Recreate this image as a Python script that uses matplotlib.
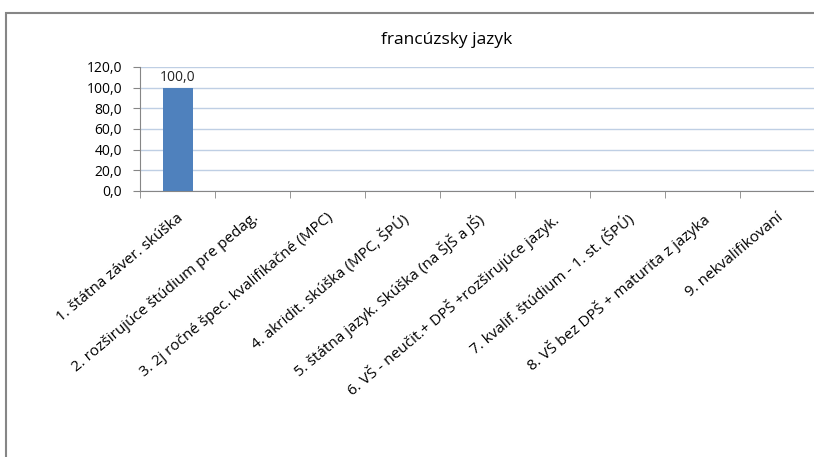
import numpy as np
import matplotlib.pyplot as plt
import matplotlib.transforms as mtransforms
from matplotlib.patches import Rectangle

categories = [
    "1. štátna záver. skúška",
    "2. rozširujúce štúdium pre pedag.",
    "3. 2j ročné špec. kvalifikačné (MPC)",
    "4. akridit. skúška (MPC, ŠPÚ)",
    "5. štátna jazyk. Skúška (na ŠJŠ a JŠ)",
    "6. VŠ - neučit.+ DPŠ +rozširujúce jazyk.",
    "7. kvalif. štúdium - 1. st. (ŠPÚ)",
    "8. VŠ bez DPŠ + maturita z jazyka",
    "9. nekvalifikovaní",
]
values = [100.0, np.nan, np.nan, np.nan, np.nan, np.nan, np.nan, np.nan, np.nan]
yticks = [0, 20, 40, 60, 80, 100, 120]
title = "francúzsky jazyk"

plt.rcParams['font.family'] = ['Open Sans', 'DejaVu Sans']

W, H = 814, 457
fig = plt.figure(figsize=(W / 100, H / 100), dpi=100)
ax = fig.add_axes([140 / W, 1 - 191 / H, 675 / W, 124 / H])

x = np.arange(len(categories))
ax.bar(x, values, width=0.4, color="#4F81BD", zorder=3)
for xi, v in zip(x, values):
    if not np.isnan(v):
        ax.text(xi, v + 3, f"{v:.1f}".replace(".", ","), ha="center", va="bottom",
                fontsize=10, color="#222222")

ax.set_xlim(-0.5, len(categories) - 0.5)
ax.set_ylim(0, 120)
ax.set_yticks(yticks)
ax.set_yticklabels([f"{t:.1f}".replace(".", ",") for t in yticks], fontsize=10)
ax.yaxis.grid(True, color="#BFCFE4", linewidth=1, zorder=0)
ax.tick_params(axis="y", length=5, color="#868686", pad=8)

ax.set_xticks(x)
ax.set_xticklabels(categories, rotation=40, ha="right", rotation_mode="anchor", fontsize=11)
ax.tick_params(axis="x", which="major", length=0, pad=14)
ax.set_xticks(np.arange(len(categories) + 1) - 0.5, minor=True)
ax.tick_params(axis="x", which="minor", length=5, color="#868686")
shift = mtransforms.ScaledTranslation(-1 / 100, 0, fig.dpi_scale_trans)
for lab in ax.get_xticklabels():
    lab.set_transform(lab.get_transform() + shift)

for side in ["top", "right"]:
    ax.spines[side].set_visible(False)
for side in ["left", "bottom"]:
    ax.spines[side].set_color("#868686")

fig.text(447 / W, 1 - 40 / H, title, ha="center", va="center", fontsize=12.5)

fig.patches.append(Rectangle((6 / W, -20 / H), 900 / W, (H - 13 + 20) / H, transform=fig.transFigure,
                             fill=False, edgecolor="#868686", linewidth=1.5))

fig.savefig("out.png", dpi=100)
